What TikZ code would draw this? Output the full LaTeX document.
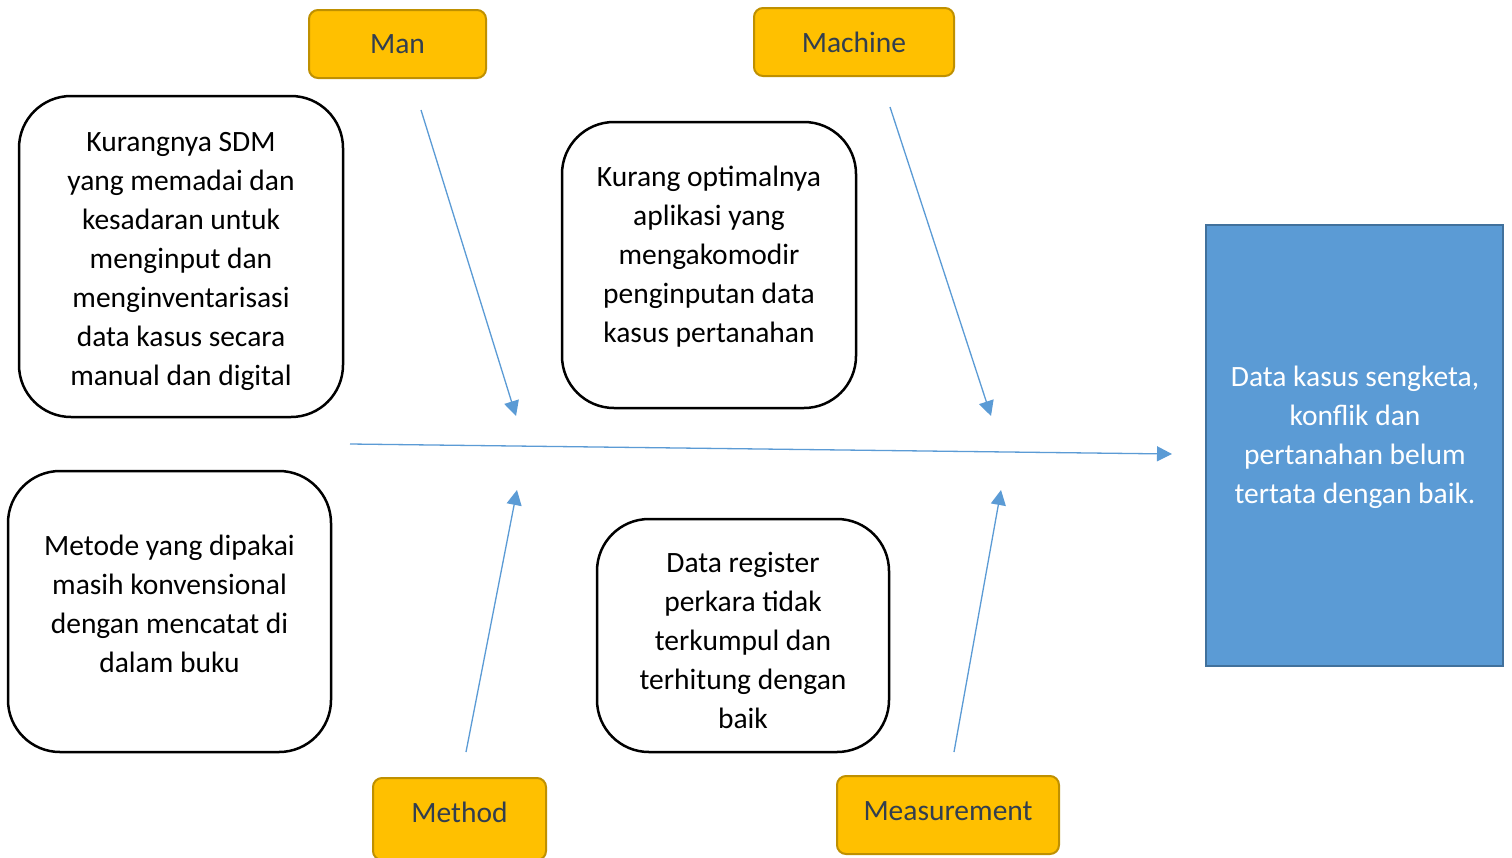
\documentclass[tikz,border=0pt]{standalone}
\usepackage{fontspec}
\setmainfont{Carlito}
\usetikzlibrary{arrows.meta}

\begin{document}
\begin{tikzpicture}[x=1pt,y=-1pt]
\definecolor{catFill}{RGB}{255,192,0}
\definecolor{catLine}{RGB}{191,144,0}
\definecolor{catText}{RGB}{50,62,79}
\definecolor{effectFill}{RGB}{91,155,213}
\definecolor{effectLine}{RGB}{65,113,156}
\definecolor{boneColor}{RGB}{91,155,213}
\tikzset{
  catbox/.style={draw=catLine,fill=catFill,line width=2pt,rounded corners=9pt,inner sep=0pt},
  cattext/.style={text=catText,font=\fontsize{29.5}{33}\selectfont,inner sep=0pt},
  causebox/.style={draw=black,line width=2.5pt,rounded corners=52pt,inner sep=0pt},
  causetext/.style={align=center,font=\fontsize{29.5}{39}\selectfont,inner sep=0pt},
  bone/.style={draw=boneColor,line width=1.3pt,-{Triangle[length=15pt,width=15pt]}}
}
\path[use as bounding box,fill=white] (0,0) rectangle (1512,857);

% categories
\node[catbox,minimum width=177,minimum height=68] (man) at (397.5,44) {};
\node[cattext] (mantext) at (397.5,44) {Man};
\node[catbox,minimum width=200,minimum height=68] (machine) at (854,42) {};
\node[cattext] (machinetext) at (854,42) {Machine};
\node[catbox,minimum width=173,minimum height=82] (method) at (459.5,819) {};
\node[cattext] (methodtext) at (459.5,812) {Method};
\node[catbox,minimum width=222,minimum height=78] (measurement) at (948,815) {};
\node[cattext] (measurementtext) at (948,811) {Measurement};

% causes
\node[causebox,minimum width=324,minimum height=321] (sdm) at (181,256.5) {};
\node[causetext] (sdmtext) at (181,261) {Kurangnya SDM\\yang memadai dan\\kesadaran untuk\\menginput dan\\menginventarisasi\\data kasus secara\\manual dan digital};

\node[causebox,minimum width=294,minimum height=286] (aplikasi) at (709,265) {};
\node[causetext] (aplikasitext) at (709,257) {Kurang optimalnya\\aplikasi yang\\mengakomodir\\penginputan data\\kasus pertanahan};

\node[causebox,minimum width=323,minimum height=281] (metode) at (169.5,611.5) {};
\node[causetext] (metodetext) at (169.5,603.5) {Metode yang dipakai\\masih konvensional\\dengan mencatat di\\dalam buku};

\node[causebox,minimum width=292,minimum height=233] (register) at (743,635.5) {};
\node[causetext] (registertext) at (743,640.5) {Data register\\perkara tidak\\terkumpul dan\\terhitung dengan\\baik};

% effect
\node[draw=effectLine,fill=effectFill,line width=2pt,minimum width=297,minimum height=441,inner sep=0pt] (effect) at (1354.5,445.5) {};
\node[causetext,text=white] (effecttext) at (1355,437.5) {Data kasus sengketa,\\konflik dan\\pertanahan belum\\tertata dengan baik.};

% bones
\coordinate (spineStart) at (350,444);
\coordinate (spineEnd) at (1172,454);
\coordinate (manStart) at (421,110);
\coordinate (manEnd) at (516,416);
\coordinate (machineStart) at (890,107);
\coordinate (machineEnd) at (991,416);
\coordinate (methodStart) at (466,752);
\coordinate (methodEnd) at (517,490);
\coordinate (measurementStart) at (954,752);
\coordinate (measurementEnd) at (1001,490);

\draw[bone] (spineStart) -- (spineEnd);
\draw[bone] (manStart) -- (manEnd);
\draw[bone] (machineStart) -- (machineEnd);
\draw[bone] (methodStart) -- (methodEnd);
\draw[bone] (measurementStart) -- (measurementEnd);
\end{tikzpicture}
\end{document}
